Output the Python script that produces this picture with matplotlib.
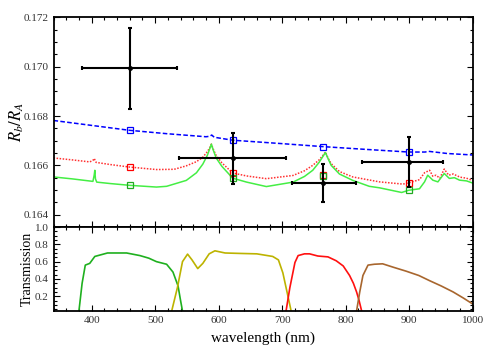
import matplotlib
matplotlib.use("Agg")
import matplotlib.pyplot as plt
from matplotlib.ticker import MultipleLocator

plt.rcParams["font.family"] = ["Liberation Serif", "DejaVu Serif"]
plt.rcParams["mathtext.fontset"] = "stix"

# 观测点 (波长, Rb/RA)
obs_wl = [460, 622, 764, 899]
obs_wl_lo = [75, 84, 48, 73]
obs_wl_hi = [75, 84, 52, 54]
obs_r = [0.16993, 0.16628, 0.16530, 0.16613]
obs_r_err = [0.00166, 0.00102, 0.00077, 0.00100]

# 模型在各波段的积分值
sq_blue = [0.16742, 0.16702, 0.16676, 0.16654]
sq_red = [0.16593, 0.16569, 0.16562, 0.16529]
sq_green = [0.16519, 0.16548, 0.16558, 0.16501]

# 模型曲线
blue_wl = [340, 400, 460, 520, 580, 586, 589, 593, 622, 700, 764, 830, 899, 925, 930, 960, 1000]
blue_r = [0.16782, 0.16762, 0.16742, 0.16728, 0.16716, 0.16718, 0.16723, 0.16714, 0.16702,
          0.16688, 0.16676, 0.16665, 0.16654, 0.16654, 0.16657, 0.16648, 0.16642]

red_wl = [340, 370, 397, 402, 404, 407, 430, 460, 502, 530, 549, 565, 575, 582, 586, 588.5,
          591, 596, 605, 622, 644, 675, 717, 735, 748, 758, 764, 768, 772, 777, 790, 811,
          853, 890, 899, 916, 924, 932, 937, 942, 948, 955, 962, 969, 980, 990, 1000]
red_r = [0.16630, 0.16622, 0.16614, 0.16620, 0.16628, 0.16612, 0.16603, 0.16593, 0.16583,
         0.16584, 0.16598, 0.16615, 0.16633, 0.16655, 0.16672, 0.16686, 0.16668, 0.16640,
         0.16610, 0.16569, 0.16557, 0.16546, 0.16559, 0.16578, 0.16600, 0.16622, 0.16640,
         0.16654, 0.16630, 0.16607, 0.16575, 0.16553, 0.16533, 0.16524, 0.16529, 0.16542,
         0.16570, 0.16580, 0.16556, 0.16560, 0.16548, 0.16585, 0.16560, 0.16565, 0.16552,
         0.16548, 0.16538]

green_wl = [340, 370, 402, 404, 405, 406, 408, 430, 460, 502, 518, 549, 565, 575, 582, 586,
            588.5, 591, 596, 605, 622, 644, 675, 717, 735, 748, 758, 764, 768, 772, 777,
            790, 811, 837, 853, 888, 899, 916, 924, 929, 937, 945, 950, 955, 963, 971, 979,
            990, 1000]
green_r = [0.16553, 0.16545, 0.16535, 0.16560, 0.16580, 0.16545, 0.16532, 0.16526, 0.16519,
           0.16512, 0.16515, 0.16539, 0.16570, 0.16605, 0.16640, 0.16668, 0.16686, 0.16665,
           0.16630, 0.16596, 0.16548, 0.16532, 0.16514, 0.16532, 0.16555, 0.16580, 0.16612,
           0.16636, 0.16652, 0.16628, 0.16600, 0.16565, 0.16539, 0.16515, 0.16509, 0.16490,
           0.16499, 0.16505, 0.16533, 0.16560, 0.16540, 0.16533, 0.16550, 0.16567, 0.16547,
           0.16550, 0.16540, 0.16537, 0.16528]

# 滤光片透过率
f1_wl = [380, 385, 390, 397, 405, 415, 425, 440, 455, 476, 490, 502, 518, 528, 536, 540, 543]
f1_t = [0.03, 0.35, 0.56, 0.58, 0.66, 0.68, 0.70, 0.70, 0.70, 0.67, 0.64, 0.60, 0.57, 0.48, 0.32, 0.15, 0.03]
f2_wl = [526, 535, 543, 551, 558, 567, 575, 585, 594, 610, 633, 660, 685, 694, 701, 709, 714]
f2_t = [0.03, 0.30, 0.60, 0.687, 0.62, 0.52, 0.58, 0.69, 0.725, 0.70, 0.695, 0.69, 0.66, 0.62, 0.47, 0.20, 0.03]
f3_wl = [706, 712, 720, 725, 735, 743, 756, 772, 785, 796, 806, 812, 817, 821, 825]
f3_t = [0.03, 0.30, 0.59, 0.67, 0.69, 0.69, 0.665, 0.655, 0.61, 0.55, 0.44, 0.35, 0.25, 0.15, 0.03]
f4_wl = [817, 822, 827, 835, 845, 858, 875, 895, 915, 932, 950, 969, 985, 1000]
f4_t = [0.03, 0.25, 0.44, 0.56, 0.57, 0.575, 0.535, 0.49, 0.44, 0.38, 0.32, 0.25, 0.18, 0.11]


def style_axis(ax):
    for s in ax.spines.values():
        s.set_linewidth(1.3)
    ax.tick_params(which="both", direction="in", top=True, right=True,
                   labelsize=8, labelcolor="#333333", width=0.8)
    ax.tick_params(which="major", length=4)
    ax.tick_params(which="minor", length=2)


fig = plt.figure(figsize=(4.91, 3.48), dpi=100)
ax1 = fig.add_axes([0.109, 0.3477, 0.854, 0.6023])
ax2 = fig.add_axes([0.109, 0.1063, 0.854, 0.2414], sharex=ax1)

ax1.plot(blue_wl, blue_r, color="blue", lw=1.1, ls=(0, (3, 1.5)))
ax1.plot(red_wl, red_r, color="#ff3030", lw=1.1, ls=(0, (1, 1)))
ax1.plot(green_wl, green_r, color="#44ee44", lw=1.1)
ax1.plot(obs_wl, sq_blue, ls="none", marker="s", ms=5, mfc="none", mec="blue", mew=0.9)
ax1.plot(obs_wl, sq_red, ls="none", marker="s", ms=5, mfc="none", mec="red", mew=0.9)
ax1.plot(obs_wl, sq_green, ls="none", marker="s", ms=5, mfc="none", mec="#22aa22", mew=0.9)
ax1.errorbar(obs_wl, obs_r, xerr=[obs_wl_lo, obs_wl_hi], yerr=obs_r_err, fmt="o", ms=2.5,
             color="black", ecolor="black", elinewidth=1.5, capsize=1.5, capthick=1.5)

ax1.set_xlim(340, 1000)
ax1.set_ylim(0.16350, 0.1720)
ax1.set_yticks([0.164, 0.166, 0.168, 0.170, 0.172])
ax1.set_yticklabels(["0.164", "0.166", "0.168", "0.170", "0.172"])
ax1.yaxis.set_minor_locator(MultipleLocator(0.0005))
ax1.xaxis.set_major_locator(MultipleLocator(100))
ax1.xaxis.set_minor_locator(MultipleLocator(20))
ax1.set_ylabel(r"$R_b/R_A$", fontsize=12)
style_axis(ax1)
ax1.tick_params(labelbottom=False)

ax2.plot(f1_wl, f1_t, color="#1fb01f", lw=1.2)
ax2.plot(f2_wl, f2_t, color="#bdb300", lw=1.2)
ax2.plot(f3_wl, f3_t, color="#ff1010", lw=1.2)
ax2.plot(f4_wl, f4_t, color="#a8662e", lw=1.2)
ax2.set_ylim(0.03, 1.0)
ax2.set_yticks([0.2, 0.4, 0.6, 0.8, 1.0])
ax2.set_yticklabels(["0.2", "0.4", "0.6", "0.8", "1.0"])
ax2.yaxis.set_minor_locator(MultipleLocator(0.05))
ax2.set_ylabel("Transmission", fontsize=10)
ax2.set_xlabel("wavelength (nm)", fontsize=11)
style_axis(ax2)

ax1.yaxis.set_label_coords(-0.066, 0.5)
ax2.yaxis.set_label_coords(-0.048, 0.5)
ax2.xaxis.set_label_coords(0.5, -0.24)

fig.savefig("out.png", dpi=100)
